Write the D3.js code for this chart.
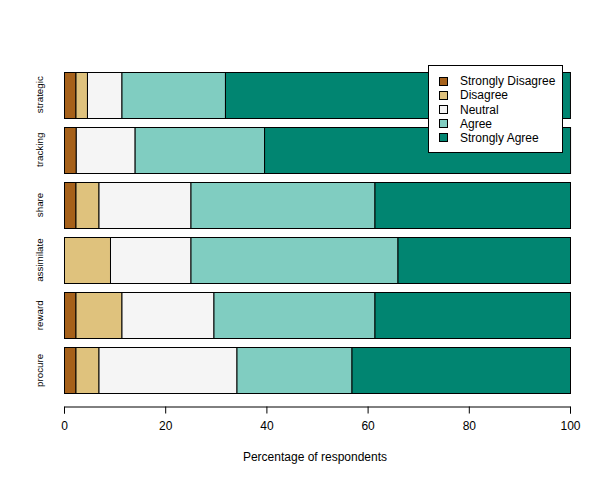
<!DOCTYPE html>
<html><head><meta charset="utf-8">
<script src="https://cdn.jsdelivr.net/npm/d3@7"></script>
<style>body{margin:0;background:#fff}svg{display:block;font-family:"Liberation Sans",Arial,sans-serif}</style>
</head><body><div id="chart"></div>
<script>
const categories = ["strategic","tracking","share","assimilate","reward","procure"];
const levels = ["Strongly Disagree","Disagree","Neutral","Agree","Strongly Agree"];
const colors = ["#A6611A","#DFC27D","#F5F5F5","#80CDC1","#018571"];
const stronglyDisagree = [2.27, 2.33, 2.27, 0.00, 2.27, 2.27];
const disagree         = [2.27, 0.00, 4.55, 9.09, 9.09, 4.55];
const neutral          = [6.82, 11.63, 18.18, 15.91, 18.18, 27.27];
const agree            = [20.45, 25.58, 36.36, 40.91, 31.82, 22.73];
const stronglyAgree    = [68.18, 60.47, 38.64, 34.09, 38.64, 43.18];
const xTicks = [0, 20, 40, 60, 80, 100];

const series = [stronglyDisagree, disagree, neutral, agree, stronglyAgree];
const rows = categories.map((c, i) => {
  const r = {cat: c};
  levels.forEach((l, j) => r[l] = series[j][i]);
  return r;
});

const W = 600, H = 480;
const svg = d3.select("#chart").append("svg").attr("width", W).attr("height", H);
const x = d3.scaleLinear().domain([0, 100]).range([64, 570]);
const y = d3.scaleBand().domain(categories).range([71.7, 393.3]).paddingInner(1/6).paddingOuter(0);

const stack = d3.stack().keys(levels)(rows);
stack.forEach((layer, j) => {
  svg.append("g").selectAll("rect").data(layer).join("rect")
    .attr("x", d => x(d[0]) + 0.5)
    .attr("y", d => Math.round(y(d.data.cat)) + 0.5)
    .attr("width", d => Math.max(0, x(d[1]) - x(d[0])))
    .attr("height", Math.round(y.bandwidth()))
    .attr("fill", colors[j])
    .attr("stroke", "#000")
    .attr("stroke-width", 1);
});

// y labels
svg.append("g").selectAll("text").data(categories).join("text")
  .attr("transform", d => `translate(43,${y(d) + y.bandwidth()/2}) rotate(-90)`)
  .attr("text-anchor", "middle")
  .attr("font-size", "9.8px")
  .attr("fill", "#000")
  .text(d => d);

// x axis
const axis = d3.axisBottom(x).tickValues(xTicks).tickSize(7).tickPadding(8).tickFormat(d3.format("d"));
const gx = svg.append("g").attr("transform", "translate(0,406.5)").call(axis);
gx.select(".domain").attr("stroke", "#000");
gx.selectAll(".tick line").attr("stroke", "#000");
gx.selectAll(".tick text").attr("font-size", "12px").attr("fill", "#000")
  .attr("font-family", "'Liberation Sans',Arial,sans-serif");

svg.append("text").attr("x", 315).attr("y", 461).attr("text-anchor", "middle")
  .attr("font-size", "12px").text("Percentage of respondents");

// legend
const lg = svg.append("g");
lg.append("rect").attr("x", 428.5).attr("y", 65.5).attr("width", 134).attr("height", 87)
  .attr("fill", "#fff").attr("stroke", "#000");
levels.forEach((l, j) => {
  const cy = 81 + j * 14.1;
  lg.append("rect").attr("x", 439.5).attr("y", Math.round(cy - 4) + 0.5).attr("width", 8).attr("height", 8)
    .attr("fill", colors[j]).attr("stroke", "#000");
  lg.append("text").attr("x", 460).attr("y", cy + 4.3).attr("font-size", "12px").text(l);
});
</script></body></html>
